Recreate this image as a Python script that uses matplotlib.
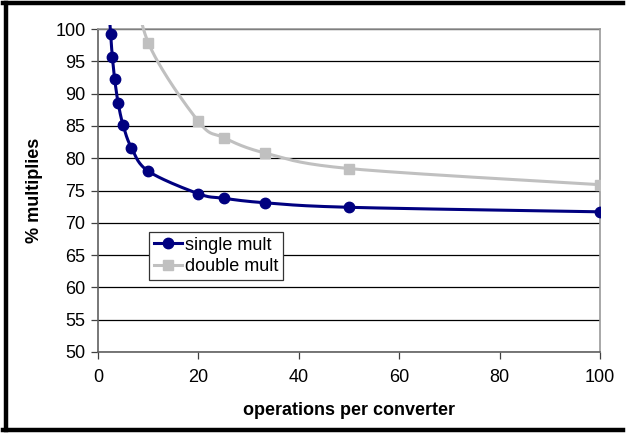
import numpy as np
import matplotlib
matplotlib.use("Agg")
import matplotlib.pyplot as plt
from matplotlib.lines import Line2D
from matplotlib.patches import Rectangle

plt.rcParams["font.family"] = ["Liberation Sans", "DejaVu Sans"]

# operations per converter vs. % multiplies
single_x = [2.22, 2.5, 2.86, 3.33, 4.0, 5.0, 6.67, 10, 20, 25, 33.3, 50, 100]
single_y = [102.5, 99.3, 95.7, 92.2, 88.6, 85.1, 81.6, 78.0, 74.5, 73.8, 73.1, 72.4, 71.7]
double_x = [6.67, 10, 20, 25, 33.3, 50, 100]
double_y = [110.2, 97.9, 85.7, 83.2, 80.8, 78.4, 75.9]

xticks = [0, 20, 40, 60, 80, 100]
yticks = [50, 55, 60, 65, 70, 75, 80, 85, 90, 95, 100]


def smooth(xs, ys, n=30):
    # bezier smoothing through every point (spreadsheet-style curve)
    p = np.column_stack([xs, ys]).astype(float)
    pts = [p[0]]
    for i in range(len(p) - 1):
        p0 = p[i - 1] if i > 0 else p[i]
        p3 = p[i + 2] if i + 2 < len(p) else p[i + 1]
        c1 = p[i] + (p[i + 1] - p0) / 6
        c2 = p[i + 1] - (p3 - p[i]) / 6
        t = np.linspace(0, 1, n)[1:, None]
        seg = ((1 - t) ** 3 * p[i] + 3 * (1 - t) ** 2 * t * c1
               + 3 * (1 - t) * t ** 2 * c2 + t ** 3 * p[i + 1])
        pts.extend(seg)
    pts = np.array(pts)
    return pts[:, 0], pts[:, 1]


W, H = 628, 433
fig = plt.figure(figsize=(W / 100, H / 100), dpi=100)
ax = fig.add_axes([98 / W, (H - 352) / H, 502 / W, 323 / H])

ax.set_xlim(0, 100)
ax.set_ylim(50, 100)
ax.set_xticks(xticks)
ax.set_yticks(yticks)
ax.yaxis.grid(True, color="black", linewidth=0.9)
ax.set_axisbelow(True)
ax.tick_params(direction="out", length=5, width=0.9, color="#404040",
               labelsize=13, pad=4)
ax.tick_params(axis="x", pad=7)
for side in ["top", "right"]:
    ax.spines[side].set_color("#999999")
    ax.spines[side].set_linewidth(1.2)
for side in ["left", "bottom"]:
    ax.spines[side].set_color("#606060")
    ax.spines[side].set_linewidth(1.2)

clip = Rectangle((0, 0), 1, 1 + 4 / 323, transform=ax.transAxes)

navy = "#000080"
grey = "#c0c0c0"
sx, sy = smooth(single_x, single_y)
dx, dy = smooth(double_x, double_y)
l1, = ax.plot(sx, sy, color=navy, lw=2.2, zorder=4)
m1, = ax.plot(single_x, single_y, "o", color=navy, ms=7.5, zorder=5)
l2, = ax.plot(dx, dy, color=grey, lw=2.2, zorder=3)
m2, = ax.plot(double_x, double_y, "s", color=grey, ms=7, zorder=3)
for a in (l1, m1, l2, m2):
    a.set_clip_path(clip)

ax.set_xlabel("operations per converter", fontsize=13, fontweight="bold",
              labelpad=12)
ax.set_ylabel("% multiplies", fontsize=13, fontweight="bold", labelpad=9)

handles = [Line2D([], [], color=navy, lw=2.2, marker="o", ms=7.5),
           Line2D([], [], color=grey, lw=2.2, marker="s", ms=7)]
leg = ax.legend(handles, ["single mult", "double mult"], loc="upper left",
                bbox_to_anchor=((149 - 98) / 502, (352 - 232) / 323),
                frameon=True, fancybox=False, framealpha=1, fontsize=13,
                handlelength=1.6, handletextpad=0.15, borderpad=0.25,
                labelspacing=0.25, borderaxespad=0)
leg.get_frame().set_edgecolor("#333333")
leg.get_frame().set_linewidth(0.9)

# outer chart border
for xs, ys in [([5.5, 5.5], [2.5, 429.5]), ([3.5, 623], [2.5, 2.5]),
               ([3.5, 623], [429.5, 429.5])]:
    fig.add_artist(Line2D([x / W for x in xs], [1 - y / H for y in ys],
                          color="black", lw=3.2, transform=fig.transFigure))

fig.savefig("out.png", dpi=100)
